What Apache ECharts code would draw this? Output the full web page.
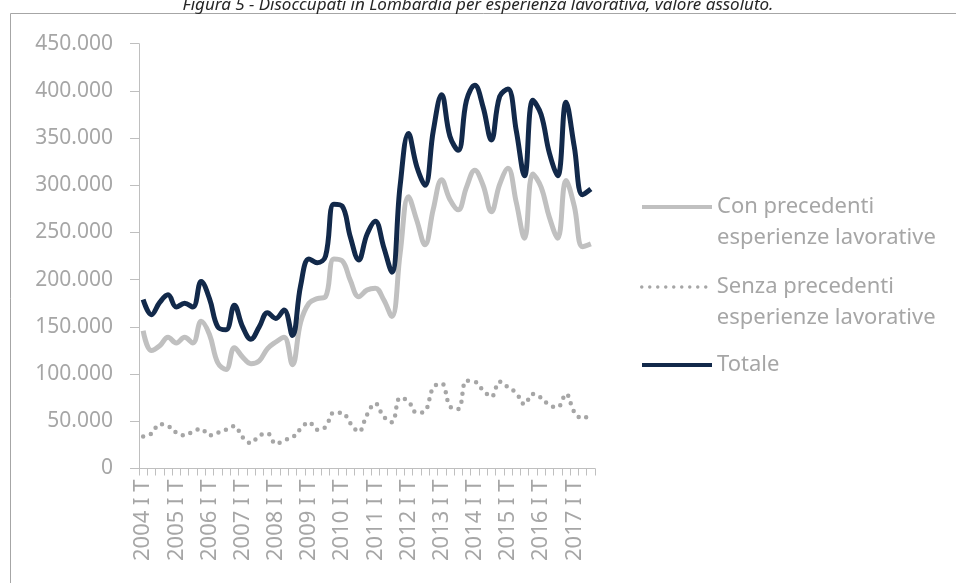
<!DOCTYPE html>
<html lang="it">
<head>
<meta charset="UTF-8">
<title>Disoccupati in Lombardia per esperienza lavorativa</title>
<script src="https://cdn.jsdelivr.net/npm/echarts@6/dist/echarts.min.js"></script>
<style>
  html, body { margin: 0; padding: 0; background: #fff; }
  #chart { width: 956px; height: 583px; }
</style>
</head>
<body>
<div id="chart"></div>
<script>
  // trimestri dal 2004 I T al 2017 III T
  var anni = [2004, 2005, 2006, 2007, 2008, 2009, 2010, 2011, 2012, 2013, 2014, 2015, 2016, 2017];
  var trimestri = ['I T', 'II T', 'III T', 'IV T'];
  var nTrimestri = 55;

  var nomeCon = 'Con precedenti\nesperienze lavorative';
  var nomeSenza = 'Senza precedenti\nesperienze lavorative';
  var nomeTot = 'Totale';

  var conEsperienza = [
    146000, 125000, 130000, 139000, 133000, 139000, 133000, 156000, 142000, 112000,
    105000, 128000, 118000, 111000, 114000, 127000, 134000, 139000, 110000, 155000,
    175000, 180000, 182000, 222000, 220000, 199000, 182000, 189000, 191000, 179000,
    161000, 228000, 288000, 263000, 237000, 275000, 306000, 285000, 274000, 298000,
    316000, 300000, 272000, 301000, 318000, 282000, 244000, 312000, 298000, 266000,
    244000, 305000, 278000, 235000, 238000
  ];
  var senzaEsperienza = [
    34000, 37000, 47000, 45000, 38000, 35000, 39000, 42000, 35000, 38000,
    41000, 45000, 33000, 27000, 35000, 37000, 26000, 30000, 33000, 42000,
    49000, 41000, 44000, 59000, 59000, 48000, 39000, 57000, 69000, 55000,
    49000, 75000, 71000, 59000, 61000, 86000, 90000, 66000, 63000, 93000,
    92000, 83000, 76000, 92000, 86000, 80000, 68000, 79000, 75000, 67000,
    65000, 79000, 60000, 53000, 58000
  ];
  var totale = [
    179000, 163000, 176000, 184000, 171000, 175000, 171000, 198000, 180000, 150000,
    147000, 173000, 150000, 137000, 150000, 165000, 159000, 168000, 141000, 194000,
    222000, 218000, 225000, 280000, 278000, 245000, 221000, 248000, 262000, 235000,
    208000, 300000, 355000, 320000, 300000, 358000, 396000, 352000, 337000, 390000,
    406000, 383000, 348000, 394000, 402000, 358000, 310000, 390000, 375000, 334000,
    310000, 388000, 341000, 290000, 296000
  ];

  var categorie = [];
  for (var a = 0; a < anni.length; a++) {
    for (var t = 0; t < trimestri.length; t++) {
      if (categorie.length < nTrimestri) categorie.push(anni[a] + ' ' + trimestri[t]);
    }
  }

  var grigioTesto = '#a6a6a6';
  var font = 'Noto Sans';

  // una legenda per voce, così ognuna sta dove deve stare
  function legenda(nome, top, lineStyle, dueRighe) {
    return {
      data: [nome],
      left: 640,
      top: top,
      padding: 0,
      itemWidth: 70,
      itemHeight: 14,
      itemGap: 0,
      selectedMode: false,
      itemStyle: { opacity: 0 },
      lineStyle: lineStyle,
      // riga vuota in testa: la linea resta allineata alla prima riga del testo
      formatter: function (n) { return dueRighe ? '\n' + n : n; },
      textStyle: {
        color: grigioTesto,
        fontFamily: font,
        fontSize: 22,
        lineHeight: 31
      }
    };
  }

  var oChart = echarts.init(document.getElementById('chart'));
  var opt = {
    animation: false,
    title: {
      text: 'Figura 5 - Disoccupati in Lombardia per esperienza lavorativa, valore assoluto.',
      left: 'center',
      top: -3,
      padding: 0,
      textStyle: {
        fontFamily: font,
        fontSize: 17,
        fontStyle: 'italic',
        fontWeight: 'normal',
        color: '#262626'
      }
    },
    graphic: [{
      type: 'rect',
      shape: { x: 10.5, y: 13.5, width: 1000, height: 1000 },
      style: { fill: 'none', stroke: '#a6a6a6', lineWidth: 1 },
      silent: true
    }],
    legend: [
      legenda(nomeCon, 160.5, { width: 4 }, true),
      legenda(nomeSenza, 240.5, { width: 3.5 }, true),
      legenda(nomeTot, 349.5, { width: 4 }, false)
    ],
    grid: { left: 139, right: 361, top: 43.7, bottom: 114.5 },
    xAxis: {
      type: 'category',
      data: categorie,
      boundaryGap: true,
      axisLine: { lineStyle: { color: '#bfbfbf', width: 1 } },
      axisTick: { show: true, interval: 0, length: 7, lineStyle: { color: '#bfbfbf' } },
      axisLabel: {
        interval: 3,
        rotate: 90,
        margin: 11,
        color: grigioTesto,
        fontFamily: font,
        fontSize: 22
      },
      splitLine: { show: false }
    },
    yAxis: {
      type: 'value',
      min: 0,
      max: 450000,
      interval: 50000,
      axisLine: { show: true, lineStyle: { color: '#bfbfbf', width: 1 } },
      axisTick: { show: true, length: 9, lineStyle: { color: '#bfbfbf' } },
      axisLabel: {
        margin: 26,
        color: grigioTesto,
        fontFamily: font,
        fontSize: 21,
        formatter: function (v) {
          return v === 0 ? '0' : (v / 1000) + '.000';
        }
      },
      splitLine: { show: false }
    },
    series: [
      {
        name: nomeCon,
        type: 'line',
        data: conEsperienza,
        smooth: 0.4,
        symbol: 'none',
        showSymbol: false,
        itemStyle: { color: '#c0c0c0' },
        lineStyle: { color: '#c0c0c0', width: 5 },
        z: 2
      },
      {
        name: nomeSenza,
        type: 'line',
        data: senzaEsperienza,
        smooth: 0.4,
        symbol: 'none',
        showSymbol: false,
        itemStyle: { color: '#a6a6a6' },
        lineStyle: { color: '#a6a6a6', width: 4.5, type: [0, 8], cap: 'round' },
        z: 2
      },
      {
        name: nomeTot,
        type: 'line',
        data: totale,
        smooth: 0.4,
        symbol: 'none',
        showSymbol: false,
        itemStyle: { color: '#12294a' },
        lineStyle: { color: '#12294a', width: 5 },
        z: 3
      }
    ]
  };
  oChart.setOption(opt);
</script>
</body>
</html>
